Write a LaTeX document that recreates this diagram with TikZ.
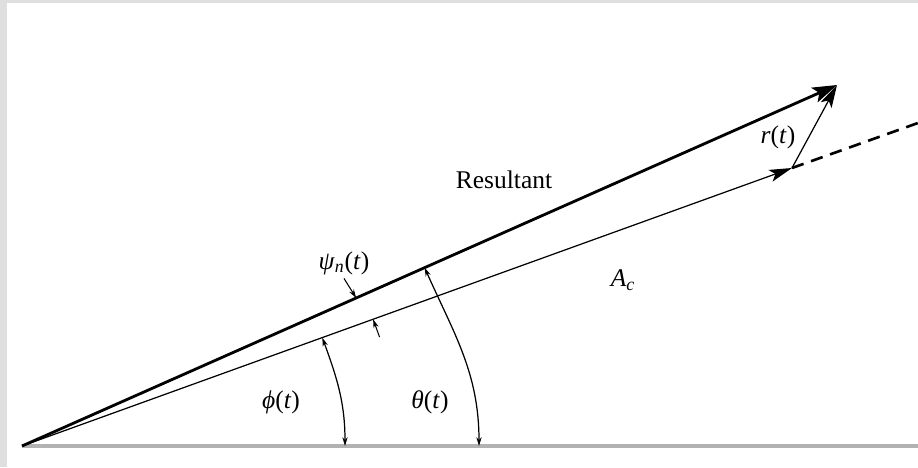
\documentclass[tikz,border=0pt]{standalone}
\usepackage{fontspec}
\setmainfont{Liberation Serif}
\usetikzlibrary{arrows.meta,calc,positioning}
\newcommand\itl[1]{\textit{#1}}
\begin{document}
\begin{tikzpicture}[x=0.02cm,y=0.02cm,font=\fontsize{14.5}{17}\selectfont,inner sep=2pt,
  bigvec/.style={line width=1.6pt,-{Stealth[length=14pt,width=9pt,inset=3pt]}},
  thinvec/.style={line width=0.7pt,-{Stealth[length=13pt,width=7pt,inset=3pt]}},
  angarc/.style={line width=0.7pt,{Stealth[length=5pt,width=3pt]}-{Stealth[length=5pt,width=3pt]}},
  tickarr/.style={line width=0.6pt,-{Stealth[length=5pt,width=3pt]}}]
\useasboundingbox (0,0) rectangle (918,467);
\fill[gray!25] (0,0) rectangle (7,467);
\fill[gray!25] (0,464) rectangle (918,467);
\coordinate (O) at (22,21);
\coordinate (R) at (837,382);
\coordinate (A) at (792,299);
\coordinate (D) at (918,344);
\coordinate (E) at (918,21);
\draw[line width=2pt,gray!60] (O) -- (E);
\draw[line width=1.5pt,dash pattern=on 7pt off 4.5pt] (A) -- (D);
\draw[thinvec] (O) -- (A);
\draw[bigvec] (O) -- (R);
\draw[thinvec] (A) -- (R);
\coordinate (phi0) at (345,21);
\coordinate (phi1) at ($(O)!0.39!(A)$);
\coordinate (th0) at (479,21);
\coordinate (th1) at ($(O)!0.494!(R)$);
\draw[angarc] (phi0) to[out=90,in=-70] (phi1);
\draw[angarc] (th0) to[out=90,in=-66] (th1);
\node (res) at (504,287) {Resultant};
\node (psi) at (344,204) {\itl{ψ}\textsubscript{\itl{n}}(\itl{t})};
\node (ac) at (623,187) {\itl{A}\textsubscript{\itl{c}}};
\node (rt) at (778,330) {\itl{r}(\itl{t})};
\node (phi) at (281,65) {\itl{ϕ}(\itl{t})};
\node (theta) at (430,65) {\itl{θ}(\itl{t})};
\coordinate (p1) at ($(O)!0.41!(R)$);
\coordinate (p2) at ($(O)!0.456!(A)$);
\draw[tickarr] (psi.south) -- (p1);
\draw[tickarr] ($(p2)!0.38cm!-90:(A)$) -- (p2);
\end{tikzpicture}
\end{document}
